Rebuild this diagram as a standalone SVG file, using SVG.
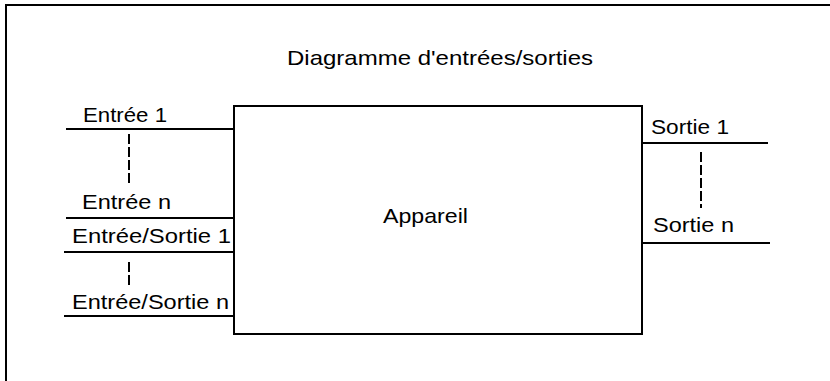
<svg xmlns="http://www.w3.org/2000/svg" width="830" height="381" viewBox="0 0 830 381">
<style>
.t{font-family:"Liberation Sans",Arial,sans-serif;font-size:21px;fill:#000}
.ln{stroke:#000;stroke-width:2;fill:none}
.ds{stroke:#000;stroke-width:2;fill:none;stroke-dasharray:10 3}
</style>
<rect x="0" y="0" width="830" height="381" fill="#fff"/>
<path class="ln" d="M6,381 V5 H830"/>
<text class="t" x="287" y="65" textLength="306" lengthAdjust="spacingAndGlyphs">Diagramme d'entrées/sorties</text>
<g id="appareil">
<rect class="ln" x="234" y="106" width="408" height="228" fill="#fff"/>
<text class="t" x="383" y="223" textLength="85" lengthAdjust="spacingAndGlyphs">Appareil</text>
</g>
<g id="entree1"><text class="t" x="83" y="122" textLength="84" lengthAdjust="spacingAndGlyphs">Entrée 1</text></g>
<g id="entreen"><text class="t" x="82" y="209" textLength="89" lengthAdjust="spacingAndGlyphs">Entrée n</text></g>
<g id="es1"><text class="t" x="72" y="243" textLength="159" lengthAdjust="spacingAndGlyphs">Entrée/Sortie 1</text></g>
<g id="esn"><text class="t" x="72" y="309" textLength="157" lengthAdjust="spacingAndGlyphs">Entrée/Sortie n</text></g>
<g id="sortie1"><text class="t" x="651" y="134" textLength="78" lengthAdjust="spacingAndGlyphs">Sortie 1</text></g>
<g id="sortien"><text class="t" x="653" y="232" textLength="81" lengthAdjust="spacingAndGlyphs">Sortie n</text></g>
<g id="connectors">
<line class="ln" x1="66" y1="129" x2="234" y2="129"/>
<line class="ln" x1="66" y1="218" x2="234" y2="218"/>
<line class="ln" x1="64" y1="252" x2="234" y2="252"/>
<line class="ln" x1="64" y1="316" x2="234" y2="316"/>
<line class="ln" x1="642" y1="143" x2="768" y2="143"/>
<line class="ln" x1="642" y1="243" x2="770" y2="243"/>
<line class="ds" x1="129" y1="134" x2="129" y2="183"/>
<line class="ds" x1="129" y1="262" x2="129" y2="287"/>
<line class="ds" x1="701" y1="152" x2="701" y2="208"/>
</g>
</svg>
